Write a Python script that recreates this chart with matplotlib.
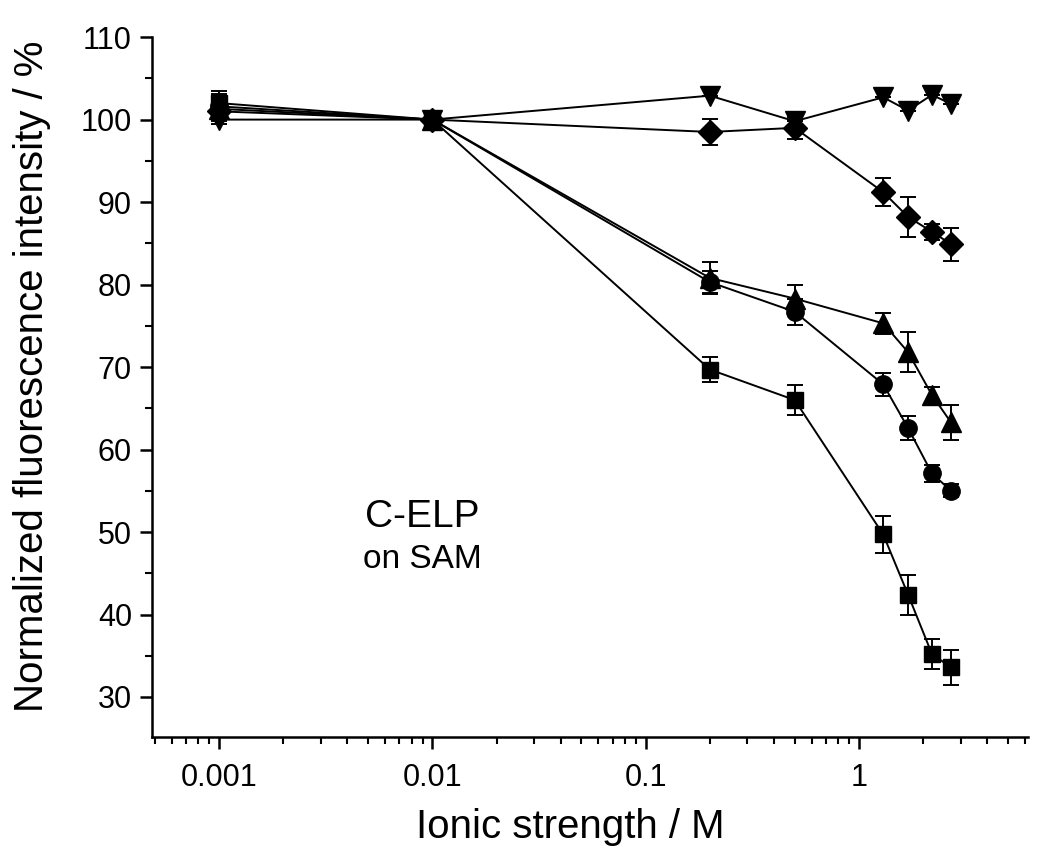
import matplotlib.pyplot as plt
from matplotlib.ticker import FixedLocator, NullFormatter, LogLocator

plt.rcParams['font.family'] = ['Liberation Sans', 'DejaVu Sans']

# ionic strength (M)
ionic = [0.001, 0.01, 0.2, 0.5, 1.3, 1.7, 2.2, 2.7]

# normalized fluorescence intensity (%) and errors
sq_y = [102.0, 100.0, 69.7, 66.0, 49.7, 42.4, 35.2, 33.6]
sq_err = [1.5, 1.0, 1.5, 1.8, 2.2, 2.4, 1.8, 2.1]
circ_y = [101.6, 100.0, 80.3, 76.7, 67.9, 62.6, 57.1, 55.0]
circ_err = [1.5, 1.0, 1.3, 1.6, 1.4, 1.5, 1.0, 0.8]
tri_y = [101.3, 100.0, 80.8, 78.3, 75.3, 71.8, 66.6, 63.3]
tri_err = [1.5, 1.0, 1.9, 1.6, 1.3, 2.4, 1.0, 2.1]
dia_y = [101.0, 100.0, 98.5, 99.0, 91.2, 88.2, 86.4, 84.9]
dia_err = [1.5, 1.0, 1.6, 1.3, 1.7, 2.4, 1.0, 2.0]
dtri_y = [100.0, 100.0, 102.9, 99.8, 102.7, 101.1, 103.0, 101.9]
dtri_err = [0, 0, 0, 0, 0, 0, 0, 0]

xticks = [0.001, 0.01, 0.1, 1]
xlabels = ['0.001', '0.01', '0.1', '1']

fig = plt.figure(figsize=(10.5, 8.63), dpi=100)
ax = fig.add_axes([0.1448, 0.146, 0.8342, 0.811])

series = [
    (sq_y, sq_err, 's', 12),
    (circ_y, circ_err, 'o', 12.5),
    (tri_y, tri_err, '^', 14),
    (dia_y, dia_err, 'D', 12.5),
    (dtri_y, dtri_err, 'v', 15),
]
for y, err, m, ms in series:
    ax.errorbar(ionic, y, yerr=err, fmt='-', marker=m, markersize=ms,
                color='black', linewidth=1.4, elinewidth=1.4,
                capsize=6, capthick=1.4)

ax.set_xscale('log')
ax.set_xlim(4.85e-4, 6.2)
ax.set_ylim(25.15, 110)

ax.xaxis.set_major_locator(FixedLocator(xticks))
ax.set_xticklabels(xlabels)
ax.xaxis.set_minor_locator(LogLocator(base=10, subs=range(2, 10), numticks=20))
ax.xaxis.set_minor_formatter(NullFormatter())
ax.set_yticks(range(30, 111, 10))
ax.set_yticks(range(30, 111, 5), minor=True)

for s in ['top', 'right']:
    ax.spines[s].set_visible(False)
for s in ['left', 'bottom']:
    ax.spines[s].set_linewidth(1.8)
ax.tick_params(which='major', direction='out', length=8.5, width=1.8, labelsize=22, pad=6)
ax.tick_params(which='minor', direction='out', length=5, width=1.5)
ax.tick_params(axis='x', which='major', pad=10)

ax.set_xlabel('Ionic strength / M', fontsize=29)
ax.set_ylabel('Normalized fluorescence intensity / %', fontsize=29)
ax.xaxis.set_label_coords(0.478, -0.101)
ax.yaxis.set_label_coords(-0.115, 0.516)

ax.text(0.243, 0.30, 'C-ELP', transform=ax.transAxes, fontsize=28)
ax.text(0.241, 0.241, 'on SAM', transform=ax.transAxes, fontsize=24)

fig.savefig('out.png', dpi=100)
